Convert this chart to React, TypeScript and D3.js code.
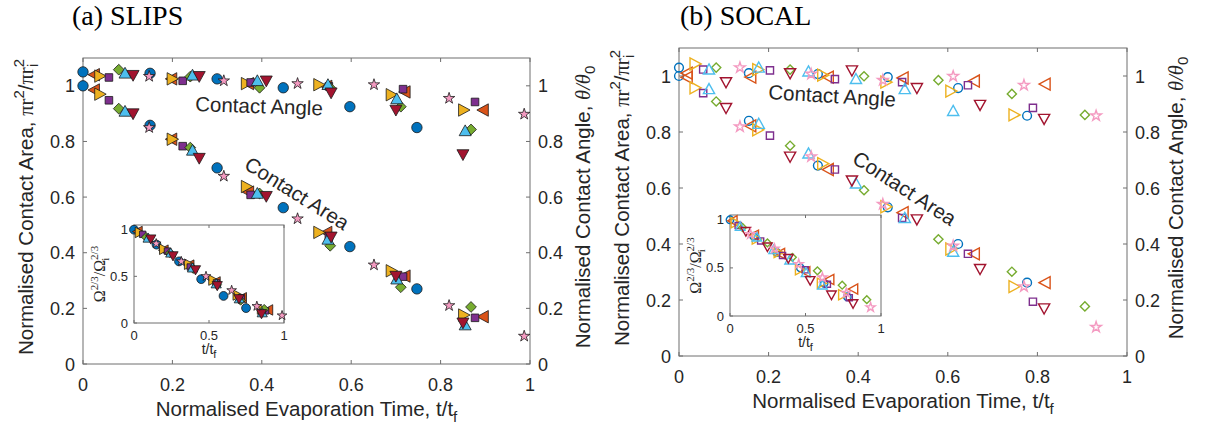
import React from "react";
import * as d3 from "d3";

// marker order follows the MATLAB default colour order
const seriesShapes = ["circle", "left", "right", "square", "diamond", "up", "down", "star"];
const seriesColors = ["#0072BD", "#D95319", "#EDB120", "#7E2F8E", "#77AC30", "#4DBEEE", "#A2142F", "#F49AC1"];

const xTicks = [0, 0.2, 0.4, 0.6, 0.8, 1];
const xTickLabels = ["0", "0.2", "0.4", "0.6", "0.8", "1"];
const yTicks = [0, 0.2, 0.4, 0.6, 0.8, 1];
const yTickLabels = ["0", "0.2", "0.4", "0.6", "0.8", "1"];
const insetTicks = [0, 0.5, 1];
const insetTickLabels = ["0", "0.5", "1"];

// (a) SLIPS
const slipsTime = [
  [0, 0.15, 0.3, 0.448, 0.597, 0.747],
  [0.025, 0.198, 0.37, 0.545, 0.72, 0.895],
  [0.038, 0.2, 0.366, 0.528, 0.69, 0.852],
  [0.058, 0.223, 0.375, 0.55, 0.716, 0.877],
  [0.08, 0.24, 0.395, 0.553, 0.711, 0.868],
  [0.094, 0.245, 0.39, 0.548, 0.702, 0.855],
  [0.112, 0.26, 0.41, 0.555, 0.7, 0.85],
  [0.148, 0.315, 0.48, 0.651, 0.819, 0.987],
];
const slipsAngle = [
  [1.05, 1.045, 1.025, 0.993, 0.925, 0.85],
  [1.04, 1.025, 1.008, 0.998, 0.978, 0.913],
  [1.035, 1.025, 1.008, 1.004, 0.968, 0.913],
  [1.03, 1.018, 1.012, 0.998, 0.988, 0.942],
  [1.058, 1.033, 0.993, 0.993, 0.925, 0.843],
  [1.045, 1.038, 1.018, 1.004, 0.953, 0.838],
  [1.038, 1.034, 1.018, 0.975, 0.913, 0.753],
  [1.034, 1.018, 1.008, 1.004, 0.955, 0.898],
];
const slipsArea = [
  [1.0, 0.858, 0.705, 0.562, 0.422, 0.27],
  [0.985, 0.808, 0.618, 0.473, 0.316, 0.17],
  [0.97, 0.808, 0.638, 0.473, 0.335, 0.176],
  [0.948, 0.783, 0.608, 0.458, 0.314, 0.166],
  [0.918, 0.778, 0.613, 0.425, 0.276, 0.205],
  [0.908, 0.768, 0.613, 0.448, 0.305, 0.14],
  [0.9, 0.74, 0.603, 0.457, 0.316, 0.148],
  [0.85, 0.675, 0.522, 0.356, 0.21, 0.1],
];
const slipsVolume = [
  [1.0, 0.84, 0.66, 0.47, 0.29, 0.16],
  [0.98, 0.78, 0.62, 0.44, 0.27, 0.14],
  [0.97, 0.79, 0.63, 0.46, 0.3, 0.15],
  [0.95, 0.77, 0.6, 0.43, 0.27, 0.13],
  [0.92, 0.75, 0.58, 0.41, 0.24, 0.15],
  [0.91, 0.75, 0.59, 0.42, 0.26, 0.11],
  [0.9, 0.72, 0.57, 0.4, 0.26, 0.1],
  [0.85, 0.66, 0.5, 0.35, 0.18, 0.08],
];

// (b) SOCAL
const socalTime = [
  [0, 0.156, 0.31, 0.466, 0.623, 0.777],
  [0.018, 0.16, 0.333, 0.5, 0.659, 0.817],
  [0.036, 0.176, 0.321, 0.462, 0.607, 0.748],
  [0.054, 0.203, 0.348, 0.498, 0.645, 0.79],
  [0.083, 0.248, 0.413, 0.579, 0.743, 0.906],
  [0.067, 0.178, 0.289, 0.395, 0.504, 0.612],
  [0.105, 0.248, 0.386, 0.531, 0.672, 0.815],
  [0.136, 0.295, 0.455, 0.612, 0.77, 0.931],
];
const socalAngle = [
  [1.03, 1.01, 1.007, 0.996, 0.957, 0.858],
  [1.01, 0.996, 0.996, 0.993, 0.982, 0.971],
  [1.043, 1.023, 1.003, 0.978, 0.946, 0.861],
  [1.023, 1.02, 0.989, 0.978, 0.967, 0.886],
  [1.03, 1.023, 0.999, 0.985, 0.936, 0.861],
  [1.023, 1.03, 1.016, 0.989, 0.953, 0.875],
  [0.978, 1.01, 1.02, 0.957, 0.897, 0.847],
  [1.03, 1.007, 0.985, 0.999, 0.967, 0.858],
];
const socalArea = [
  [1.0, 0.84, 0.68, 0.531, 0.4, 0.262],
  [0.995, 0.822, 0.666, 0.512, 0.365, 0.262],
  [0.958, 0.808, 0.687, 0.533, 0.382, 0.248],
  [0.939, 0.787, 0.666, 0.493, 0.365, 0.194],
  [0.909, 0.751, 0.592, 0.417, 0.301, 0.177],
  [0.953, 0.829, 0.723, 0.616, 0.493, 0.372],
  [0.886, 0.712, 0.627, 0.488, 0.311, 0.17],
  [0.819, 0.712, 0.542, 0.393, 0.248, 0.103],
];
const socalVolume = [
  [1.0, 0.83, 0.66, 0.5, 0.34, 0.2],
  [0.99, 0.84, 0.65, 0.46, 0.38, 0.28],
  [0.97, 0.8, 0.66, 0.48, 0.34, 0.22],
  [0.94, 0.78, 0.63, 0.48, 0.33, 0.19],
  [0.92, 0.76, 0.61, 0.47, 0.32, 0.17],
  [0.93, 0.82, 0.69, 0.58, 0.45, 0.32],
  [0.88, 0.72, 0.6, 0.37, 0.22, 0.13],
  [0.85, 0.7, 0.54, 0.4, 0.24, 0.09],
];

const SANS = "'Liberation Sans', Arial, sans-serif";
const SERIF = "'Liberation Serif', 'Times New Roman', serif";
const TEXT = "#262626";
const AXIS = "#6e6e6e";

function markerPath(shape: string, s: number) {
  switch (shape) {
    case "left":
      return `M${-s},0L${s * 0.85},${-s}L${s * 0.85},${s}Z`;
    case "right":
      return `M${s},0L${-s * 0.85},${-s}L${-s * 0.85},${s}Z`;
    case "up":
      return `M0,${-s}L${s},${s * 0.8}L${-s},${s * 0.8}Z`;
    case "down":
      return `M0,${s}L${s},${-s * 0.8}L${-s},${-s * 0.8}Z`;
    case "diamond":
      return `M0,${-s}L${s},0L0,${s}L${-s},0Z`;
    case "square":
      return `M${-s},${-s}H${s}V${s}H${-s}Z`;
    case "star":
      return d3.symbol(d3.symbolStar, (s * s) / 0.8908)() as string;
    default:
      return d3.symbol(d3.symbolCircle, Math.PI * s * s)() as string;
  }
}

const filledSize: Record<string, number> = { circle: 5.2, left: 6.2, right: 6.2, square: 3.8, diamond: 5.4, up: 6, down: 6, star: 6 };
const openSize: Record<string, number> = { circle: 4.4, left: 6, right: 6, square: 3.6, diamond: 4.6, up: 5.6, down: 5.6, star: 5.6 };

function Markers({ times, values, x, y, filled, scale = 1 }: any) {
  return (
    <g>
      {times.map((row: number[], i: number) =>
        row.map((t, j) => {
          const shape = seriesShapes[i];
          const s = (filled ? filledSize[shape] : openSize[shape]) * scale;
          return (
            <path
              key={`${i}-${j}`}
              d={markerPath(shape, s)}
              transform={`translate(${x(t)},${y(values[i][j])})`}
              fill={filled ? seriesColors[i] : "none"}
              stroke={filled ? "#1a1a1a" : seriesColors[i]}
              strokeWidth={filled ? 0.8 : 1.4}
            />
          );
        })
      )}
    </g>
  );
}

function AreaLabel({ x, y }: { x: number; y: number }) {
  return (
    <text x={x} y={y} transform={`rotate(-90,${x},${y})`} textAnchor="middle" fontFamily={SANS} fontSize={20.5} fill={TEXT}>
      Normalised Contact Area,{" "}
      <tspan fontFamily={SERIF}>πr</tspan>
      <tspan dy={-9} fontSize={15}>2</tspan>
      <tspan dy={9}>/</tspan>
      <tspan fontFamily={SERIF}>πr</tspan>
      <tspan dy={-9} fontSize={15}>2</tspan>
      <tspan dy={14} dx={-8} fontSize={15}>i</tspan>
      <tspan dy={-5}> </tspan>
    </text>
  );
}

function AngleLabel({ x, y }: { x: number; y: number }) {
  return (
    <text x={x} y={y} transform={`rotate(-90,${x},${y})`} textAnchor="middle" fontFamily={SANS} fontSize={20.5} fill={TEXT}>
      Normalised Contact Angle,{" "}
      <tspan fontFamily={SERIF} fontStyle="italic">θ/θ</tspan>
      <tspan dy={5} fontSize={15}>0</tspan>
    </text>
  );
}

function Panel({ box, inset, time, angle, area, volume, filled, title, titleX, labels, rightLabelGap }: any) {
  const x = d3.scaleLinear().domain([0, 1]).range([box.left, box.right]);
  const y = d3.scaleLinear().domain([0, 1.1]).range([box.bottom, box.top]);
  const ix = d3.scaleLinear().domain([0, 1]).range([inset.left, inset.right]);
  const iy = d3.scaleLinear().domain([0, 1.05]).range([inset.bottom, inset.top]);
  const tk = 4;
  return (
    <g>
      <text x={titleX} y={25} fontFamily={SERIF} fontSize={28} fill="#000">{title}</text>
      {/* main axes box */}
      <rect x={box.left} y={box.top} width={box.right - box.left} height={box.bottom - box.top} fill="white" stroke={AXIS} strokeWidth={1} />
      {xTicks.map((t, i) => (
        <g key={"xt" + i}>
          <line x1={x(t)} x2={x(t)} y1={box.bottom} y2={box.bottom - tk} stroke={AXIS} />
          <line x1={x(t)} x2={x(t)} y1={box.top} y2={box.top + tk} stroke={AXIS} />
          <text x={x(t)} y={box.bottom + 27} textAnchor="middle" fontFamily={SANS} fontSize={18} fill={TEXT}>{xTickLabels[i]}</text>
        </g>
      ))}
      {yTicks.map((t, i) => (
        <g key={"yt" + i}>
          <line x1={box.left} x2={box.left + tk} y1={y(t)} y2={y(t)} stroke={AXIS} />
          <line x1={box.right} x2={box.right - tk} y1={y(t)} y2={y(t)} stroke={AXIS} />
          <text x={box.left - 8} y={y(t) + 6.5} textAnchor="end" fontFamily={SANS} fontSize={18} fill={TEXT}>{yTickLabels[i]}</text>
          <text x={box.right + 8} y={y(t) + 6.5} textAnchor="start" fontFamily={SANS} fontSize={18} fill={TEXT}>{yTickLabels[i]}</text>
        </g>
      ))}
      <text x={(box.left + box.right) / 2} y={box.bottom + 52} textAnchor="middle" fontFamily={SANS} fontSize={20.5} fill={TEXT}>
        Normalised Evaporation Time, t/t<tspan dy={6} fontSize={15}>f</tspan>
      </text>
      <AreaLabel x={box.left - 50} y={(box.top + box.bottom) / 2 - 4} />
      <AngleLabel x={box.right + rightLabelGap} y={(box.top + box.bottom) / 2 - 4} />

      <Markers times={time} values={area} x={x} y={y} filled={filled} />
      <Markers times={time} values={angle} x={x} y={y} filled={filled} />

      <text x={labels.angle[0]} y={labels.angle[1]} transform={`rotate(${labels.angle[2]},${labels.angle[0]},${labels.angle[1]})`} fontFamily={SANS} fontSize={20.5} fill={TEXT}>Contact Angle</text>
      <text x={labels.area[0]} y={labels.area[1]} transform={`rotate(${labels.area[2]},${labels.area[0]},${labels.area[1]})`} fontFamily={SANS} fontSize={20.5} fill={TEXT}>Contact Area</text>

      {/* inset */}
      <rect x={inset.left} y={inset.top} width={inset.right - inset.left} height={inset.bottom - inset.top} fill="white" stroke={AXIS} strokeWidth={1} />
      {insetTicks.map((t, i) => (
        <g key={"it" + i}>
          <line x1={ix(t)} x2={ix(t)} y1={inset.bottom} y2={inset.bottom - 3} stroke={AXIS} />
          <line x1={ix(t)} x2={ix(t)} y1={inset.top} y2={inset.top + 3} stroke={AXIS} />
          <line x1={inset.left} x2={inset.left + 3} y1={iy(t)} y2={iy(t)} stroke={AXIS} />
          <text x={ix(t)} y={inset.bottom + 17} textAnchor="middle" fontFamily={SANS} fontSize={13} fill={TEXT}>{insetTickLabels[i]}</text>
          <text x={inset.left - 6} y={iy(t) + 4.5} textAnchor="end" fontFamily={SANS} fontSize={13} fill={TEXT}>{insetTickLabels[i]}</text>
        </g>
      ))}
      <text x={(inset.left + inset.right) / 2} y={inset.bottom + 31} textAnchor="middle" fontFamily={SANS} fontSize={14} fill={TEXT}>
        t/t<tspan dy={4} fontSize={11}>f</tspan>
      </text>
      {(() => {
        const lx = inset.left - 29;
        const ly = (inset.top + inset.bottom) / 2;
        return (
          <text x={lx} y={ly} transform={`rotate(-90,${lx},${ly})`} textAnchor="middle" fontFamily={SERIF} fontSize={16} fill={TEXT}>
            Ω<tspan dy={-7} fontSize={11}>2/3</tspan>
            <tspan dy={7}>/Ω</tspan>
            <tspan dy={-7} fontSize={11}>2/3</tspan>
            <tspan dy={11} dx={-15} fontSize={11}>i</tspan>
          </text>
        );
      })()}
      <Markers times={time} values={volume} x={ix} y={iy} filled={filled} scale={0.85} />
    </g>
  );
}

export default function App() {
  return (
    <svg width={1208} height={434} style={{ position: "absolute", left: 0, top: 0, background: "white" }}>
      <rect width={1208} height={434} fill="white" />
      <Panel
        box={{ left: 83, right: 530, top: 58, bottom: 364 }}
        inset={{ left: 134, right: 284, top: 225, bottom: 323 }}
        time={slipsTime}
        angle={slipsAngle}
        area={slipsArea}
        volume={slipsVolume}
        filled={true}
        title="(a) SLIPS"
        titleX={72}
        labels={{ angle: [195, 111, 2], area: [243, 168, 32] }}
        rightLabelGap={60}
      />
      <Panel
        box={{ left: 679, right: 1127, top: 48, bottom: 356 }}
        inset={{ left: 730, right: 881, top: 215, bottom: 316 }}
        time={socalTime}
        angle={socalAngle}
        area={socalArea}
        volume={socalVolume}
        filled={false}
        title="(b) SOCAL"
        titleX={680}
        labels={{ angle: [768, 99, 3.5], area: [851, 162, 33] }}
        rightLabelGap={56}
      />
    </svg>
  );
}
